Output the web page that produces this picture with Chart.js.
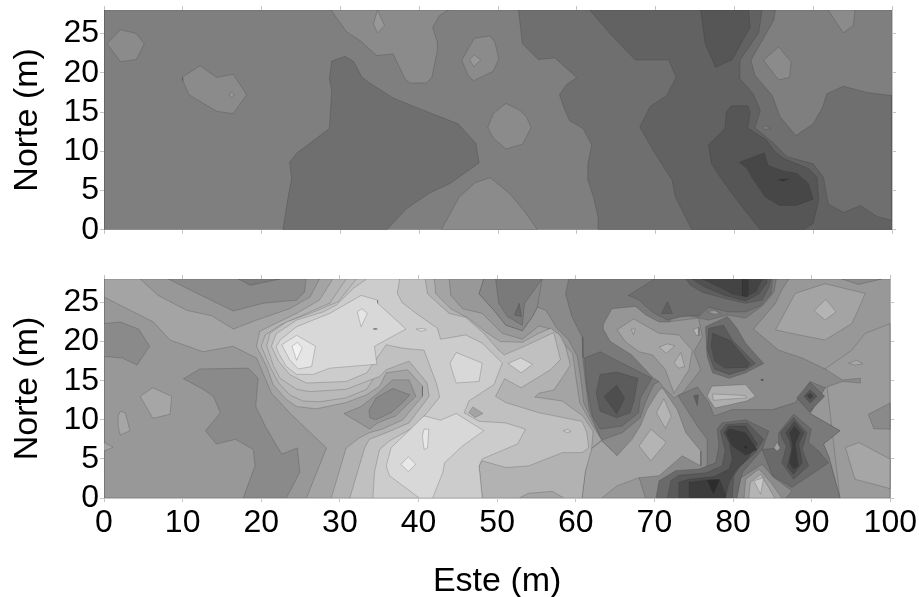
<!DOCTYPE html>
<html><head><meta charset="utf-8">
<script src="https://cdn.jsdelivr.net/npm/chart.js@4"></script>
<style>html,body{margin:0;padding:0;background:#fff;overflow:hidden}canvas{position:absolute;left:0}#c1{top:-20px}#c2{top:250px}</style>
</head><body>
<canvas id="c1" width="919" height="270"></canvas>
<canvas id="c2" width="919" height="352"></canvas>
<script>
// ---------- tick labels ----------
const xTicks=[0,10,20,30,40,50,60,70,80,90,100];
const yTicks=[0,5,10,15,20,25];
// ---------- upper panel: contour regions, (Este, Norte) in metres ----------
const tBase=[[0,0],[100,0],[100,28],[0,28]];
const tIsl1=[[0.4,23.7],[2.1,25.5],[4.1,25],[5.1,23.7],[4.1,21.7],[2.1,21.4]];
const tIsl2=[[9.9,19.4],[10,19],[10.8,17.2],[14.3,15.1],[16.4,14.8],[18.1,17.2],[16.4,19.8],[14.3,19.4],[12.2,20.9]];
const tIsl2b=[[15.85,17.2],[16.2,17.5],[16.55,17.2],[16.2,16.9]];
const tHigh1=[[28.8,28],[30.8,25.2],[32.5,24.1],[34.6,22.2],[36.7,22.4],[37.5,20.7],[38.2,19.2],[38.8,18.7],[40.9,18.7],[41.6,19.4],[42.3,22.8],[42.3,23.9],[41.7,25.8],[42.6,27.3],[43.7,28]];
const tHigh1b=[[34.7,28],[34.2,26.2],[34.7,25.1],[35.6,26]];
const tIsl3=[[45.4,21.6],[47,24.4],[49,24.7],[49.6,23.9],[50.1,21.8],[49.4,20.2],[46.9,19],[46.2,19.7]];
const tIsl3b=[[46.4,21.7],[47,22.3],[47.8,21.6],[46.9,20.8]];
const tIsl4=[[48.7,13],[49.4,14.8],[51,16.1],[52.8,15.2],[53.6,14.4],[54.2,13],[53.1,10.9],[51,10.3],[49.4,11.7]];
const tHigh2=[[42.8,0],[45.1,4.2],[47.1,6],[49,6.65],[51.5,4.6],[53.4,2.3],[55,0]];
const tIsl5=[[83.7,21.6],[85.6,23.3],[87.2,21.4],[87,19.4],[85.6,19.1]];
const tIsl6=[[91.9,28],[93.8,25.1],[95.1,26],[95.3,28]];
const tLow1=[[22.7,0],[23.3,3.8],[23.8,6.5],[23.55,8.6],[24.5,9.8],[28.6,12.9],[28.9,17.8],[28.6,19.2],[28.9,21.5],[30.6,22.1],[31.7,21.4],[32.7,19.5],[33.7,18.7],[36.7,16.8],[40.1,15.4],[44.95,13.5],[47.2,11],[47.6,8.5],[43.9,5.9],[41.35,4.7],[38.4,2.7],[35.9,0]];
const tLow2=[[52.6,28],[85.2,28],[85,26.7],[82.1,21.6],[82.6,19.7],[84.8,17.1],[85.8,14.4],[87.8,12],[90,13.5],[91.2,15.6],[91.7,17.3],[93.8,18.3],[96.8,17.5],[100,17.1],[100,0],[62.7,0],[62.7,1.65],[62.1,4.2],[61.35,6.5],[61.4,8.4],[61.9,10.8],[60.8,12.9],[59.1,13.9],[58.5,15.2],[57.8,17.2],[58.7,18.5],[60,19.4],[57.2,21.9],[55.1,21.7],[53.1,23.7]];
const tDot=[[83.6,13.2],[83.9,13.25],[84.6,12.9],[83.9,12.75]];
const tLow3=[[61.65,28],[64.2,25],[67.4,21.65],[71.65,21.65],[72.6,19.4],[71.4,17.1],[69.3,15.7],[68,13.1],[69.7,10.1],[72.1,6.3],[72.5,4.2],[74.6,0],[100,0],[100,1.2],[98.1,1.7],[96,3.1],[93.9,2.2],[91.9,3.3],[91.3,6.7],[90,8.4],[86.7,9.3],[85,11],[82.6,13],[83.3,15.2],[82.4,17.3],[80.6,19.4],[80.7,21.6],[83.1,25.1],[83.5,28]];
const tLow4a=[[75.7,28],[81.8,28],[82,25.8],[79.7,21.65],[77.6,20.7],[76.3,23.7]];
const tLow4b=[[76.7,10.8],[78.8,12.9],[78.96,15],[79.6,15.8],[81.7,15.8],[82,15],[81.7,13],[81.8,12.9],[84.1,11.4],[85,10.1],[86.2,9.1],[89.4,7.8],[90.5,6.7],[90.7,3.8],[90,0.8],[88.8,0],[83.3,0],[80.3,3.8],[78.2,6.7],[77.1,8.4]];
const tLow5=[[80.6,8.6],[83.8,9.8],[84.3,8.2],[86.2,7.5],[87.9,7.2],[89.4,5.9],[90,3.9],[87.9,3.1],[85.7,3.1],[83.9,4.2],[82.2,6.7],[81.6,7.8]];
const tLow6=[[85.5,6.4],[86.9,6.5],[86.2,6.2]];
// ---------- lower panel: contour regions ----------
const bBase=[[0,0],[100,0],[100,28],[0,28]];
const bRight=[[91.7,16.5],[95.1,18.9],[96.8,21.05],[100,22.3],[100,0],[93.6,0]];
const bR1=[[85.4,21.5],[87.9,26.15],[91.7,27.4],[96.8,26.15],[95.9,24],[95.1,22.3],[91.7,20.2],[88.4,20.85]];
const bR2=[[90.3,23.95],[91.8,25.4],[93.1,23.8],[91.7,22.75]];
const bR3=[[93.85,28],[95.95,27.3],[98.9,28]];
const bR4=[[97.2,10.7],[100,12.15],[100,8.8],[97.9,8.85]];
const bR5=[[94.3,6.45],[96,7.1],[100,4.95],[100,1.2],[95.5,2.4]];
const bR6=[[94.7,17.25],[95.75,17.6],[96.5,17.15],[95.5,17]];
const bMid88=[[48.3,28],[47.7,26.1],[49.6,24],[51.1,22.1],[53.2,21.4],[54.5,23.2],[55.1,24.4],[56.2,24],[57.6,21.7],[59.1,20.2],[60.2,18.1],[60.6,15.5],[61,12.2],[62,10],[63.3,7.4],[65.25,5.4],[68.05,2.6],[68.85,0],[93.6,0],[92.2,5.2],[91.5,6.9],[93.6,8.6],[89.8,10.8],[91.7,14.1],[93.9,14.9],[96.2,14.7],[96.2,15.3],[93.9,15.1],[91.7,16.5],[88.8,17.9],[85.8,18.9],[82.6,21.6],[85.4,24.9],[86.2,26.6],[87.1,28]];
const bMid7a=[[59.1,28],[58.7,26.1],[59.5,23.2],[60.8,20.6],[60.9,17.9],[61.2,15.1],[61.7,11.3],[62.5,9.2],[63.3,7.4],[65.9,8.35],[68.2,10.25],[68.85,12.2],[69.9,14.5],[70.6,14.9],[72,20],[72,24],[75.7,23],[76.9,22.75],[79.3,23.4],[81.6,23],[83.9,24.7],[85.2,26.35],[85.5,28]];
const bRa=[[61.1,17.9],[63.1,18.7],[65.5,17.45],[69.7,15.3],[68.2,12.8],[68,10.9],[65.9,9.2],[63.1,8.8],[62.1,10.5],[61.4,14.3]];
const bRb=[[62.6,13.4],[63.1,15.8],[65.2,16.1],[67.9,15.3],[67.4,12.4],[66.9,10.9],[65.2,10.25],[63.1,11.1]];
const bRc=[[63.6,13],[65.2,14.4],[66.2,12.8],[65.2,10.7]];
const bRing1=[[63.5,22.2],[64.6,24.2],[67.6,24.5],[68.9,23.4],[70.6,22.5],[71.65,22.5],[73.55,22.75],[75.6,23],[76.1,20.6],[75,18.7],[75.9,16.4],[73.55,13.4],[72.5,12.8],[71,14.3],[70.6,14.9],[69.9,15.3],[67.1,18.3],[64.4,20],[63.55,21.5]];
const bRing2=[[65.25,21.5],[67.35,22.9],[70.6,21.05],[73.1,20.85],[74.8,18.9],[74.4,16.4],[72.5,13.4],[71.4,16.4],[69.75,18.3],[68.05,18.7],[66.3,20]];
const bS1=[[66.7,25.9],[70,28],[85,28],[84.8,26.1],[83.5,24.6],[81.6,23.8],[79.3,23.8],[76.9,24.4],[75.7,23.3],[73.55,23.2],[71.65,22.75],[69.7,23.8],[68.05,25.3]];
const bS2=[[74,28],[74.6,27.2],[76.1,26.3],[79,25.5],[81.6,24.9],[83.7,25.3],[84.6,27],[84.8,28]];
const bS3=[[74.8,28],[76.3,27],[79,25.9],[81.6,25.2],[83.3,26.1],[84.2,27.4],[84.3,28]];
const bS4=[[76.1,28],[78.2,27],[79.9,26.1],[81.6,25.7],[82.9,26.4],[83.7,28]];
const bS5=[[81.2,28],[81.2,25.9],[81.8,25.7],[82,26.6],[81.9,28]];
const bS6=[[70.9,23.6],[71.65,25.1],[72.3,23.6]];
const bS7=[[76.7,23.8],[77.6,24],[78.4,23.6],[77.6,23.5]];
const bA1=[[0,28],[0,25.7],[6.3,22.5],[8.4,20.2],[12.6,18.7],[16.4,19.4],[19.4,17.9],[21.3,13.4],[23.6,10.9],[26.2,8.4],[28.3,6.4],[25.75,0],[60.8,0],[61.2,3.3],[61.85,6.2],[63.3,7.4],[62,9.5],[60.5,12.2],[60,15.5],[59.6,18.5],[58,20.2],[56.8,21.6],[55.3,22],[53.2,20.3],[50.66,21.05],[48.1,23.6],[45.6,24.2],[44.1,25.9],[43.9,28]];
const bTop98=[[4.6,28],[6.9,25.9],[10.5,24],[13.7,23.3],[16.45,21.6],[19.4,22.75],[23.6,24.2],[26.2,25.7],[27.4,28]];
const bTop8a=[[8.2,28],[10.95,26.6],[16.45,23.9],[20.25,24.9],[24.5,25.3],[25.5,26.35],[25.7,28]];
const bTop7c=[[17.1,28],[18.6,27.2],[22.4,28]];
const bL1=[[0,22.3],[2.07,22.5],[4.4,21.6],[5.8,19.4],[4.2,17],[2.3,17.9],[0,18.1]];
const bL2=[[4.6,13],[6.2,14.1],[8.6,13],[8.4,10.7],[6.2,10.2]];
const bL3=[[1.8,10.5],[2.07,11.1],[2.7,10.9],[3.3,8.6],[2.07,8.05],[1.8,9.2]];
const bL4=[[0,7.1],[1.15,6.5],[0,6]];
const bL5=[[10.1,15.25],[12.2,16.5],[18.35,16.6],[19.6,15.3],[19.3,11.7],[20.5,9.2],[22.6,5.6],[24.6,6.4],[24.9,3.3],[23.2,0],[17.7,0],[19.2,4.1],[19,6.2],[16.7,7.5],[14.3,6.9],[12.9,8.6],[14.8,10.9],[13.9,13],[12.6,13.9]];
const bN2=[[60.8,0],[61.2,3.3],[61.85,6.2],[63.3,7.3],[65.25,5.4],[67.15,7.5],[68.2,9.2],[69.05,11.3],[70.5,13.65],[71,14.1],[72.9,11.3],[74,8.35],[75.9,6],[75.9,4.1],[73.55,5.4],[70.6,2.85],[68.05,2.6],[65.25,1.55],[63.3,0]];
const bN3=[[68.05,6.65],[69.55,8.8],[71.5,7.1],[69.55,4.75]];
const bN4=[[70.25,10.9],[71.2,12.7],[72.15,10.45],[71.4,8.9]];
const bN5=[[74.95,21.55],[75.65,21.8],[75.65,20.75],[75.3,20.85]];
const bN6=[[70.6,19.3],[71.65,19.7],[72.6,19.45],[71.5,18.5]];
const bN7=[[72.5,17.25],[73.35,18.6],[73.85,16.8],[73.1,16.6]];
const bN8=[[67.05,21.6],[67.55,21.6],[67.35,20.85]];
const bA2=[[29.1,28],[27.4,25.3],[24.5,23.6],[22.2,22.5],[19.8,21.3],[19.4,19.4],[20.7,16.8],[21.5,14.5],[23.2,12.6],[24.5,11.7],[27,11.4],[30.8,12.2],[33.4,13.2],[35.05,14.3],[35.9,16],[38.6,16.4],[40.5,14.3],[40.5,13],[38,10],[35.4,8.8],[33.74,8.35],[32.5,7.7],[30.8,6.4],[28.9,0],[52.8,0],[54,0.6],[57,0.85],[58.5,0],[60.8,0],[61.2,3.3],[62,6.2],[62.2,8.5],[60.9,10.5],[59.5,11.5],[58.3,12.4],[54.8,12.9],[55.3,13.4],[57.2,13.8],[58.7,16],[59.3,17],[58.7,19.4],[58,20.8],[56.8,21.7],[55.3,21.05],[53.2,19.9],[50.4,20],[48.5,21.25],[46.4,22.95],[44.1,24.2],[42.2,26.1],[42,28]];
const bA25=[[30.8,28],[28.7,24.9],[25.3,23.4],[22.4,22.1],[20.5,20.85],[20,19.4],[21.1,16.8],[22.2,14.7],[23.6,13.2],[25.3,12.4],[27.4,12.3],[30.8,12.8],[33.4,13.9],[36,18],[36,28]];
const bA3=[[32.1,28],[29.8,25.1],[26.2,23.6],[23.2,22.5],[21.1,21.05],[20.7,19.45],[21.5,17],[22.4,15.3],[24.5,13.9],[26.2,13.6],[30.8,13.9],[35.05,15.55],[35.9,16.4],[38.8,17.5],[41.1,14.7],[41.35,13],[38.8,9.6],[35.9,8.35],[33.74,7.5],[33.15,6.4],[31.25,0],[48.1,0],[47.7,4.1],[48.1,4.75],[51.1,3.9],[54,4.1],[58.3,5.8],[60.8,5.8],[61.65,6.4],[61.4,8.35],[60.8,9.8],[55.3,10.9],[51.1,12.2],[49.8,13],[50.95,15.25],[53.05,14.1],[56.8,16.4],[58.05,17.7],[57.2,21.15],[53.6,19.45],[50.9,18.3],[50.2,18.9],[48.3,21.05],[46,23.1],[43.9,23.6],[41.15,26.1],[40.85,28]];
const bC=[[33.4,28],[37.6,28],[37.3,26.2],[37.9,25],[39.7,23.6],[42.4,21.7],[42.8,20.3],[46,20.85],[48.1,19.8],[50.66,17.25],[49.6,14.5],[46.4,12.4],[45.8,10.9],[47.7,9.8],[51.1,9.6],[53.6,8.8],[52.6,6.9],[48.1,5],[47.7,4.1],[48.1,0],[34.2,0],[34.4,3.3],[35.05,6.2],[36.3,7.3],[39.7,9.2],[42.7,12.9],[42.3,14.6],[40.7,18.9],[38,19.15],[35.9,19.6],[33.4,16],[30.8,14.9],[25.75,14.7],[23.6,15.8],[22.2,17.5],[21.3,19.4],[21.9,21],[24.5,22.75],[27.9,23.8],[29.6,24.7],[31.7,26.8]];
const bTip=[[30.5,10.8],[32.7,11.7],[34.6,13.2],[36.7,15.1],[38.8,15.1],[39.66,13],[37.1,10.5],[34.8,9.6],[33.8,8.8]];
const bInner=[[33.7,11.2],[34.6,12.8],[36.7,14],[38.9,13.2],[38,12.2],[36.5,10.9],[34.6,10],[33.8,10.25]];
const bBig=[[21.9,19.3],[22.4,20.2],[24.5,21.9],[28.7,23.6],[32.7,25.9],[34.8,25.3],[34.8,24.9],[38.4,21.6],[34.4,19.4],[34.7,17.1],[28.7,16.6],[26.6,15.8],[24.5,15.8],[23.2,16.8],[22.2,18.5]];
const bPeak=[[22.6,19.6],[24.5,20.8],[26.9,19.4],[26.4,16.8],[24.7,16.5],[23.6,17.7]];
const bPeakIn=[[23.9,19.4],[24.6,19.9],[25.2,19.2],[24.5,17.6]];
const bPeak2=[[32.2,23.8],[32.8,24.2],[33.5,23.6],[32.7,21.9]];
const bDash=[[34.2,21.6],[34.5,21.7],[34.8,21.6],[34.5,21.55]];
const bDash2=[[39.7,21.6],[40.7,21.7],[41,21.5],[40.3,21.3]];
const bW=[[35.9,4.1],[36.5,6.4],[40.7,10.5],[42.8,9.95],[44.8,10.8],[48.3,8.6],[45.6,6.65],[43.3,4.5],[43.1,3.3],[41.8,0],[40.1,0],[36.3,2.85]];
const bW1=[[40.7,8.8],[41.3,8.8],[41.15,6.4],[40.7,6.2],[40.5,7.9]];
const bW2=[[37.75,4.3],[38.7,5.25],[39.66,4.3],[38.7,3.4]];
const bCen=[[44,17.25],[44.8,18.6],[48.1,17.25],[47.7,14.9],[44.8,14.7],[44.5,15.55]];
const bZi=[[51.4,17.2],[53,17.9],[54.5,17.1],[53.05,16]];
const bCd=[[46.4,10.9],[46.9,11.65],[48.2,10.8],[47.2,10.3]];
const bZd=[[58.4,8.6],[59,8.8],[59.4,8.5],[58.9,8.35]];
const bDark1=[[49.8,28],[55.7,28],[53.5,24.9],[53.2,22.1],[51.3,23.2],[50.2,24.9]];
const bDark1i=[[52.2,23.4],[52.8,24.9],[53.1,23.2]];
const bDark1o=[[48.3,28],[47.7,26.1],[49.6,24],[51.1,22.1],[53.2,21.4],[54.5,23.2],[55.1,24.4],[55.7,28]];
const bQ=[[73,13.1],[75.45,14.2],[76.9,12.2],[77.6,10.5],[79.9,11.3],[85,11.3],[87.9,12.2],[89.8,14.9],[91.7,14.1],[89.8,10.8],[93.6,8.6],[91.5,6.9],[92.2,5.2],[93.6,0],[76,0],[76.7,4.3],[76.7,7.5],[75.45,9.2],[73.55,12.2]];
const bQi=[[75,13.1],[75.6,13.2],[75.45,11.8]];
const bD1=[[76.5,21.9],[79.3,23.2],[80.5,21.7],[81.6,19.8],[83.9,17.2],[81.6,16],[79.5,15.3],[77.4,16],[76.7,18.1]];
const bD2=[[76.9,21.7],[78.8,22.1],[79.9,20.2],[82.85,17.2],[81.6,16.4],[79.5,15.8],[77.6,16.5],[76.7,19]];
const bD3=[[77.4,21.05],[79.7,20.1],[82.1,17.2],[81.8,16.7],[79,16.6],[77.7,17.5],[77.2,19.4]];
const bStrip=[[77.3,14.3],[81.6,14.5],[82.85,13],[81.7,12.4],[77.7,11.5],[76.7,13]];
const bStripIn=[[77.4,13.3],[81.6,13.1],[81.7,12.8],[77.5,12.5]];
const bSpot=[[83.5,15.1],[83.7,15.2],[83.9,15.1],[83.7,15]];
const bC1=[[78,8.8],[78.6,9.6],[81.6,10],[84.55,8.55],[83.7,6.2],[81.2,3.3],[80.5,0],[70.2,0],[70.6,2.2],[72.7,3.5],[75.7,3.7],[77.8,4.5],[78.2,6.65]];
const bC2=[[78.4,8.55],[79.1,9.4],[81.8,9.6],[83.9,7.5],[82.85,5.8],[80.95,4.1],[80.1,2.85],[79.9,0],[71.65,0],[72.1,2.2],[73.1,2.9],[76.5,3.2],[78.6,4.1],[79,6]];
const bC3=[[73.1,0],[73.1,2],[74.4,2.4],[77.6,2.75],[79.5,3.7],[79.9,5],[79.5,7.1],[78.85,8.35],[79.4,9.2],[81.6,9.2],[83.1,6.9],[81.8,5],[80.3,3.5],[79.5,2],[79,0]];
const bC4=[[79.1,8.35],[79.55,8.85],[81.6,8.35],[83.05,6.2],[81.6,5.45],[79.9,6.65]];
const bC5=[[81.4,6.5],[81.6,6.7],[81.8,6.5],[81.6,6.3]];
const bC6=[[74.4,0],[74.4,2],[76.7,2.3],[78.3,2.35],[79,0.5],[79,0]];
const bC7=[[76.7,2.3],[78.3,2.35],[77.5,0.5]];
const bE1=[[83.7,6.2],[85.8,6.4],[85.8,8.35],[87.7,10.7],[89.96,8.8],[89.6,7.1],[90.9,6],[92.15,4.5],[87.5,1.35],[85,2.85]];
const bE2=[[86,8.35],[87.7,10.25],[89.4,8.35],[88.8,6.2],[89.6,4.1],[87.7,2.4],[86.2,4.5],[86.8,6.65],[86.3,7.5]];
const bE3=[[86.7,8.35],[87.8,9.8],[89,8.35],[88.35,6.9],[88.8,4.5],[87.7,3.05],[86.9,4],[87.4,6.2],[87.2,7.3]];
const bE4=[[87.2,8.35],[87.8,9.2],[88.5,8.35],[87.9,6.9],[88.3,4.1],[87.7,3.7],[87.2,4.5],[87.6,6.65]];
const bE5=[[85.2,6.4],[85.6,7.15],[86,6.4],[85.6,6]];
const bB1=[[80.5,0],[81,2.6],[83.7,4.3],[85.2,2.6],[87.5,0.9],[86.7,0]];
const bB2=[[81.4,0],[81.6,2.4],[83.3,3.7],[84.8,2],[86.2,0]];
const bB3=[[82,0],[82.2,2],[83.5,3.05],[84.4,1.55],[85.3,0]];
const bB4=[[82.65,2.2],[83.9,2.6],[83.5,0.5]];
const bT1=[[88.1,12.8],[89.8,14.8],[91.65,13],[89.7,11]];
const bT2=[[89,13],[89.8,13.85],[90.7,13],[89.8,12.15]];
const bT3=[[89.4,13.1],[89.8,13.4],[90.2,13],[89.8,12.65]];

const topLayers=[[tBase,'#7f7f7f'],[tIsl1,'#8b8b8b'],[tIsl2,'#8b8b8b'],[tIsl2b,'#989898'],[tHigh1,'#8b8b8b'],[tHigh1b,'#989898'],[tIsl3,'#8b8b8b'],[tIsl3b,'#989898'],[tIsl4,'#8b8b8b'],[tHigh2,'#8b8b8b'],[tIsl5,'#8b8b8b'],[tIsl6,'#8b8b8b'],[tLow1,'#6f6f6f'],[tLow2,'#6f6f6f'],[tDot,'#7f7f7f'],[tLow3,'#626262'],[tLow4a,'#565656'],[tLow4b,'#565656'],[tLow5,'#474747'],[tLow6,'#353535']];
const bottomLayers=[[bBase,'#989898'],[bRight,'#9b9b9b'],[bR1,'#a4a4a4'],[bR2,'#b4b4b4'],[bR3,'#8a8a8a'],[bR4,'#8a8a8a'],[bR5,'#a6a6a6'],[bR6,'#a8a8a8'],[bMid88,'#8a8a8a'],[bMid7a,'#7a7a7a'],[bRa,'#6c6c6c'],[bRb,'#5c5c5c'],[bRc,'#4e4e4e'],[bRing1,'#969696'],[bRing2,'#a4a4a4'],[bN5,'#b4b4b4'],[bN6,'#b4b4b4'],[bN7,'#b4b4b4'],[bN8,'#b4b4b4'],[bS1,'#6e6e6e'],[bS2,'#5f5f5f'],[bS3,'#515151'],[bS4,'#444444'],[bS5,'#383838'],[bS6,'#606060'],[bS7,'#969696'],[bA1,'#a4a4a4'],[bTop98,'#989898'],[bTop8a,'#8a8a8a'],[bTop7c,'#7c7c7c'],[bL1,'#8a8a8a'],[bL2,'#a6a6a6'],[bL3,'#a6a6a6'],[bL4,'#a6a6a6'],[bL5,'#8a8a8a'],[bN2,'#a4a4a4'],[bN3,'#b4b4b4'],[bN4,'#b4b4b4'],[bA2,'#b2b2b2'],[bA25,'#b9b9b9'],[bA3,'#c0c0c0'],[bC,'#cccccc'],[bTip,'#969696'],[bInner,'#888888'],[bBig,'#d8d8d8'],[bPeak,'#e5e5e5'],[bPeakIn,'#f2f2f2'],[bPeak2,'#e5e5e5'],[bDash,'#707070'],[bDash2,'#d8d8d8'],[bW,'#d8d8d8'],[bW1,'#e8e8e8'],[bW2,'#e8e8e8'],[bCen,'#d8d8d8'],[bZi,'#d4d4d4'],[bCd,'#a4a4a4'],[bZd,'#cccccc'],[bDark1o,'#888888'],[bDark1,'#7a7a7a'],[bDark1i,'#6a6a6a'],[bQ,'#7a7a7a'],[bQi,'#606060'],[bD1,'#6e6e6e'],[bD2,'#5c5c5c'],[bD3,'#4e4e4e'],[bStrip,'#adadad'],[bStripIn,'#bcbcbc'],[bSpot,'#505050'],[bC1,'#6a6a6a'],[bC2,'#5a5a5a'],[bC3,'#4a4a4a'],[bC4,'#3a3a3a'],[bC5,'#2a2a2a'],[bC6,'#3c3c3c'],[bC7,'#2c2c2c'],[bE1,'#6a6a6a'],[bE2,'#5a5a5a'],[bE3,'#4a4a4a'],[bE4,'#3a3a3a'],[bE5,'#a0a0a0'],[bB1,'#8c8c8c'],[bB2,'#a0a0a0'],[bB3,'#b4b4b4'],[bB4,'#c8c8c8'],[bT1,'#6a6a6a'],[bT2,'#555555'],[bT3,'#404040']];

const FONT='"Liberation Sans",Arial,sans-serif';
const AX='#c4c4c4';
function closed(p){const r=p.map(q=>({x:q[0],y:q[1]}));r.push({x:p[0][0],y:p[0][1]});return r;}
function dsets(layers){const n=layers.length;return layers.map((l,i)=>({data:closed(l[0]),showLine:true,fill:'shape',backgroundColor:l[1],borderColor:'rgba(50,50,50,0.38)',borderWidth:0.6,pointRadius:0,pointHoverRadius:0,tension:0,order:n-i}));}
function build(id,layers,o){
  return new Chart(document.getElementById(id),{type:'scatter',data:{datasets:dsets(layers)},options:{
    responsive:false,animation:false,events:[],layout:{padding:0},
    plugins:{legend:{display:false},tooltip:{enabled:false}},
    scales:{
      x:{type:'linear',position:'bottom',min:0,max:100,afterFit(s){s.height=o.bottom},
        title:{display:o.xlabel,text:'Este (m)',color:'#000',font:{family:FONT,size:34},padding:{top:18,bottom:0}},
        border:{color:AX},grid:{drawOnChartArea:false,color:AX,tickLength:4},
        afterBuildTicks(s){s.ticks=xTicks.map(v=>({value:v}))},
        ticks:{display:o.xlabel,color:'#000',font:{family:FONT,size:32},padding:2,maxRotation:0,autoSkip:false}},
      xTop:{type:'linear',position:'top',min:0,max:100,afterFit(s){s.height=o.top},
        border:{color:AX},grid:{drawOnChartArea:false,color:AX,tickLength:4},
        afterBuildTicks(s){s.ticks=xTicks.map(v=>({value:v}))},ticks:{display:false}},
      y:{type:'linear',position:'left',min:0,max:28,afterFit(s){s.width=104},
        title:{display:true,text:'Norte (m)',color:'#000',font:{family:FONT,size:34},padding:{top:7,bottom:0}},
        border:{color:AX},grid:{drawOnChartArea:false,color:AX,tickLength:4},
        afterBuildTicks(s){s.ticks=yTicks.map(v=>({value:v}))},
        ticks:{color:'#000',font:{family:FONT,size:32},padding:1,autoSkip:false}},
      yRight:{type:'linear',position:'right',min:0,max:28,afterFit(s){s.width=27},
        border:{color:AX},grid:{drawOnChartArea:false,color:AX,tickLength:4},
        afterBuildTicks(s){s.ticks=yTicks.map(v=>({value:v}))},ticks:{display:false}}
    }}});
}
build('c1',topLayers,{top:30,bottom:20,xlabel:false});
build('c2',bottomLayers,{top:29,bottom:104,xlabel:true});
</script>
</body></html>
